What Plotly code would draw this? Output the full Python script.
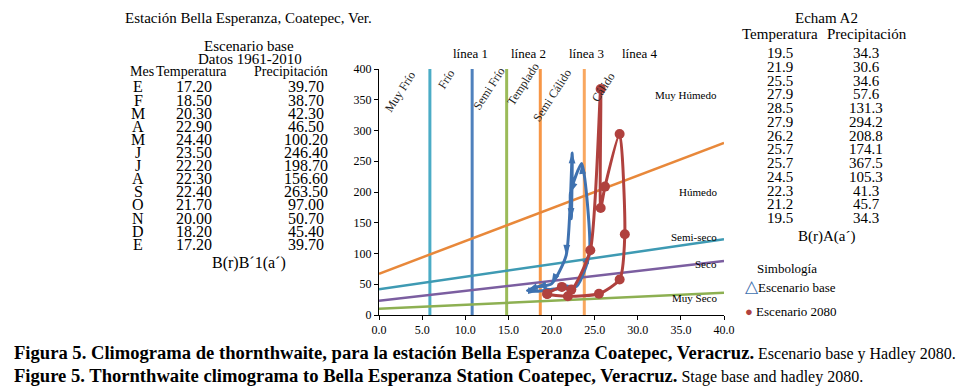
import plotly.graph_objects as go

# ---------------- data ----------------
meses = ["E", "F", "M", "A", "M", "J", "J", "A", "S", "O", "N", "D", "E"]
temp_base = [17.20, 18.50, 20.30, 22.90, 24.40, 23.50, 22.20, 22.30, 22.40, 21.70, 20.00, 18.20, 17.20]
prec_base = [39.70, 38.70, 42.30, 46.50, 100.20, 246.40, 198.70, 156.60, 263.50, 97.00, 50.70, 45.40, 39.70]
temp_2080 = [19.5, 21.9, 25.5, 27.9, 28.5, 27.9, 26.2, 25.7, 25.7, 24.5, 22.3, 21.2, 19.5]
prec_2080 = [34.3, 30.6, 34.6, 57.6, 131.3, 294.2, 208.8, 174.1, 367.5, 105.3, 41.3, 45.7, 34.3]

# temperature class limits (vertical lines)
temp_limits = [5.9, 10.8, 14.8, 18.7, 23.8]
linea_names = ["línea 1", "línea 2", "línea 3", "línea 4"]
temp_classes = ["Muy Frío", "Frío", "Semi Frío", "Templado", "Semi Cálido", "Cálido"]
temp_class_x = [2.4, 7.8, 12.8, 16.7, 20.1, 26.0]
temp_class_y = [363, 384, 369, 376, 358, 371]

# humidity class lines (value at T=0 and T=40)
hum_x = [0, 40]
hum_humedo = [67, 280]
hum_semiseco = [42, 123]
hum_seco = [23, 88]
hum_muyseco = [10, 36]
hum_classes = ["Muy Húmedo", "Húmedo", "Semi-seco", "Seco", "Muy Seco"]
hum_class_y = [358, 200, 127, 83, 28]

x_ticks = [0, 5, 10, 15, 20, 25, 30, 35, 40]
y_ticks = [0, 50, 100, 150, 200, 250, 300, 350, 400]

# ---------------- layout constants (page pixels) ----------------
W, H = 966, 390
X0, X1, Y0, Y1 = 379, 724, 69, 315   # plot area in page pixels
L, T = X0, Y0
R, B = W - X1, H - Y1
FONT = "Liberation Serif"


def px(x, y):
    return (x - X0) / (X1 - X0), (Y1 - y) / (Y1 - Y0)


fig = go.Figure()

vcolors = ["#4BACC6", "#4F81BD", "#9BBB59", "#F79646", "#F9A75F"]
for xv, c in zip(temp_limits, vcolors):
    fig.add_trace(go.Scatter(x=[xv, xv], y=[0, 400], mode="lines",
                             line=dict(color=c, width=3), showlegend=False, hoverinfo="skip"))

for yy, c in [(hum_humedo, "#E8883A"), (hum_semiseco, "#3E9AB3"),
              (hum_seco, "#7B5EA0"), (hum_muyseco, "#8DB052")]:
    fig.add_trace(go.Scatter(x=hum_x, y=yy, mode="lines",
                             line=dict(color=c, width=2.5), showlegend=False, hoverinfo="skip"))

fig.add_trace(go.Scatter(x=temp_base, y=prec_base, mode="lines+markers",
                         line=dict(color="#3F72B0", width=3, shape="spline", smoothing=0.6),
                         marker=dict(symbol="arrow", angleref="previous", size=11, color="#3F72B0"),
                         showlegend=False, hoverinfo="skip"))
fig.add_trace(go.Scatter(x=temp_2080, y=prec_2080, mode="lines+markers",
                         line=dict(color="#B0413E", width=3, shape="spline", smoothing=0.6),
                         marker=dict(symbol="circle", size=10, color="#B0413E"),
                         showlegend=False, hoverinfo="skip"))

ann = []
for name, xv, yv in zip(temp_classes, temp_class_x, temp_class_y):
    ann.append(dict(x=xv, y=yv, xref="x", yref="y", text=name, showarrow=False,
                    textangle=-57, font=dict(size=12, color="#222", family=FONT)))
for name, yv in zip(hum_classes, hum_class_y):
    ann.append(dict(x=39.4, y=yv, xref="x", yref="y", text=name, showarrow=False,
                    xanchor="right", font=dict(size=11, color="black", family=FONT)))


def t(x, y, text, size=14, anchor="center"):
    xp, yp = px(x, y)
    ann.append(dict(x=xp, y=yp, xref="paper", yref="paper", text=text, showarrow=False,
                    xanchor=anchor, yanchor="middle",
                    font=dict(size=size, color="black", family=FONT)))


for name, xpix in zip(linea_names, [470, 528, 586, 640]):
    t(xpix, 53, name, 13)

# left table
t(248, 18, "Estación Bella Esperanza, Coatepec, Ver.", 15)
t(249, 46, "Escenario base", 15)
t(250, 59, "Datos 1961-2010", 15)
t(142, 71, "Mes", 14)
t(191, 71, "Temperatura", 14)
t(291, 71, "Precipitación", 14)
for i, (m, tv, pv) in enumerate(zip(meses, temp_base, prec_base)):
    yy = 87 + i * 13.1
    t(138, yy, m, 16)
    t(194, yy, f"{tv:.2f}", 16)
    t(306, yy, f"{pv:.2f}", 16)
t(249, 263, "B(r)B´1(a´)", 16)

# right table
t(826, 18, "Echam A2", 15)
t(780, 34, "Temperatura", 15)
t(867, 34, "Precipitación", 15)
for i, (tv, pv) in enumerate(zip(temp_2080, prec_2080)):
    yy = 53 + i * 13.75
    t(780, yy, f"{tv:.1f}", 15)
    t(866, yy, f"{pv:.1f}", 15)
t(826, 236, "B(r)A(a´)", 15)

# legend
t(787, 268, "Simbología", 13)
t(743, 286, "<span style='color:#3F72B0;font-size:17px'>△</span>Escenario base", 13, anchor="left")
t(743, 311, "<span style='color:#B0413E'>●</span> Escenario 2080", 13, anchor="left")

# captions
t(12, 352, "<b>Figura 5. Climograma de thornthwaite, para la estación Bella Esperanza Coatepec, Veracruz.</b>"
           "<span style='font-size:16px'> Escenario base y Hadley 2080.</span>", 18.6, anchor="left")
t(12, 375, "<b>Figure 5. Thornthwaite climograma to Bella Esperanza Station Coatepec, Veracruz.</b>"
           "<span style='font-size:16px'> Stage base and hadley 2080.</span>", 18.6, anchor="left")

fig.update_layout(
    width=W, height=H, margin=dict(l=L, r=R, t=T, b=B),
    paper_bgcolor="white", plot_bgcolor="white",
    font=dict(family=FONT, size=12, color="black"),
    annotations=ann, showlegend=False,
    xaxis=dict(range=[0, 40], tickvals=x_ticks, ticktext=[f"{v:.1f}" for v in x_ticks],
               showgrid=False, zeroline=False, showline=True, linecolor="black", linewidth=1,
               ticks="outside", ticklen=4, tickcolor="black",
               tickfont=dict(size=12, family=FONT)),
    yaxis=dict(range=[0, 400], tickvals=y_ticks, showgrid=False, zeroline=False,
               showline=True, linecolor="black", linewidth=1,
               ticks="outside", ticklen=4, tickcolor="black",
               tickfont=dict(size=12, family=FONT)),
)

fig.write_html("out.html", config={"displayModeBar": False},
               post_script="document.body.style.margin='0';document.body.style.overflow='hidden';")
